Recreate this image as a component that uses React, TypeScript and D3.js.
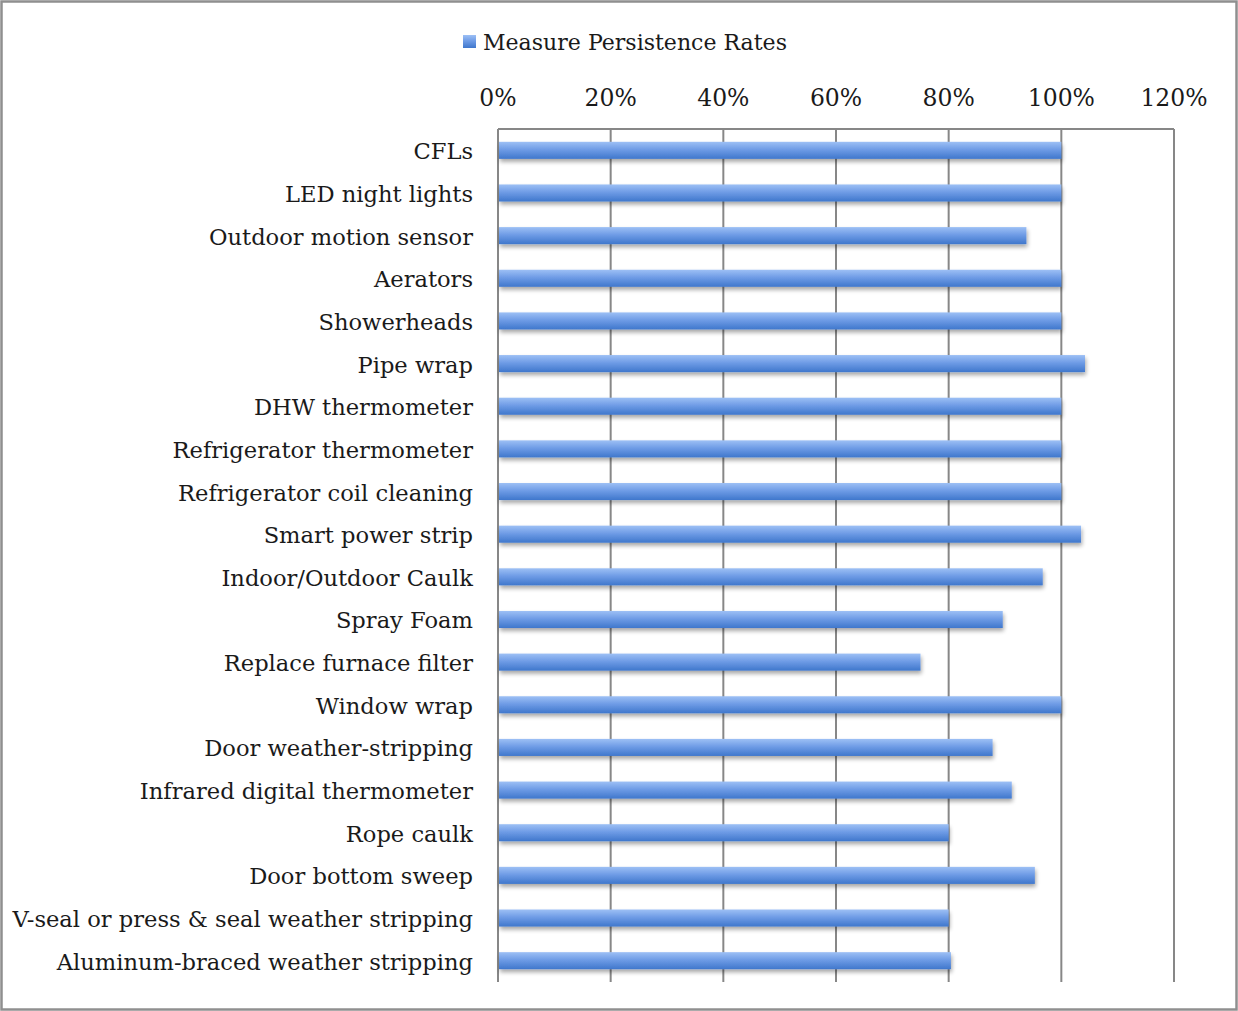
import React from "react";
import * as d3 from "d3";

const categories = [
  "CFLs",
  "LED night lights",
  "Outdoor motion sensor",
  "Aerators",
  "Showerheads",
  "Pipe wrap",
  "DHW thermometer",
  "Refrigerator thermometer",
  "Refrigerator coil cleaning",
  "Smart power strip",
  "Indoor/Outdoor Caulk",
  "Spray Foam",
  "Replace furnace filter",
  "Window wrap",
  "Door weather-stripping",
  "Infrared digital thermometer",
  "Rope caulk",
  "Door bottom sweep",
  "V-seal or press & seal weather stripping",
  "Aluminum-braced weather stripping",
];
const values = [
  1.0, 1.0, 0.938, 1.0, 1.0, 1.042, 1.0, 1.0, 1.0, 1.035, 0.967, 0.896, 0.75,
  1.0, 0.878, 0.912, 0.8, 0.953, 0.8, 0.804,
];
const ticks = [0, 0.2, 0.4, 0.6, 0.8, 1.0, 1.2];
const seriesName = "Measure Persistence Rates";

const W = 1238;
const H = 1011;
const left = 498;
const right = 1174;
const top = 129;
const bottom = 982;
const font = "'DejaVu Serif', serif";

export default function App() {
  const x = d3.scaleLinear().domain([0, 1.2]).range([left, right]);
  const y = d3
    .scaleBand<string>()
    .domain(categories)
    .range([top, bottom])
    .paddingInner(0.6)
    .paddingOuter(0.3);
  const fmt = d3.format(".0%");
  const grid = "#878787";
  return (
    <svg
      width={W}
      height={H}
      style={{ position: "absolute", left: 0, top: 0 }}
      xmlns="http://www.w3.org/2000/svg"
    >
      <defs>
        <linearGradient id="barGrad" x1="0" y1="0" x2="0" y2="1">
          <stop offset="0" stopColor="#9dc0f5" />
          <stop offset="0.45" stopColor="#6f9ce6" />
          <stop offset="1" stopColor="#3f77cc" />
        </linearGradient>
        <filter id="shadow" x="-5%" y="-50%" width="110%" height="220%">
          <feGaussianBlur in="SourceAlpha" stdDeviation="2" />
          <feOffset dx="1" dy="3" result="b" />
          <feComponentTransfer>
            <feFuncA type="linear" slope="0.35" />
          </feComponentTransfer>
          <feMerge>
            <feMergeNode />
            <feMergeNode in="SourceGraphic" />
          </feMerge>
        </filter>
      </defs>
      <rect x={0} y={0} width={W} height={H} fill="#fff" />
      <rect
        x={1.5}
        y={1.5}
        width={W - 3}
        height={H - 3}
        fill="none"
        stroke="#8f8f8f"
        strokeWidth={2.5}
      />
      {/* legend */}
      <rect x={463} y={35} width={13} height={13} fill="url(#barGrad)" />
      <text
        x={483}
        y={50}
        fontFamily={font}
        fontSize={22}
        fill="#1a1a1a"
        textLength={304}
        lengthAdjust="spacingAndGlyphs"
      >
        {seriesName}
      </text>
      {/* gridlines */}
      {ticks.map((t) => (
        <line
          key={t}
          x1={x(t)}
          x2={x(t)}
          y1={top}
          y2={bottom}
          stroke={grid}
          strokeWidth={2}
        />
      ))}
      <line x1={left} x2={right} y1={top} y2={top} stroke={grid} strokeWidth={2} />
      {ticks.map((t) => (
        <text
          key={"l" + t}
          x={x(t)}
          y={106}
          textAnchor="middle"
          fontFamily={font}
          fontSize={23.5}
          fill="#1a1a1a"
        >
          {fmt(t)}
        </text>
      ))}
      {/* bars */}
      {categories.map((c, i) => (
        <rect
          key={c}
          x={x(0) + 1}
          y={y(c)!}
          width={x(values[i]) - x(0) - 1}
          height={y.bandwidth()}
          fill="url(#barGrad)"
          filter="url(#shadow)"
        />
      ))}
      {/* category labels */}
      {categories.map((c) => (
        <text
          key={"c" + c}
          x={473}
          y={y(c)! + y.bandwidth() / 2 + 9}
          textAnchor="end"
          fontFamily={font}
          fontSize={22.6}
          fill="#1a1a1a"
        >
          {c}
        </text>
      ))}
    </svg>
  );
}
